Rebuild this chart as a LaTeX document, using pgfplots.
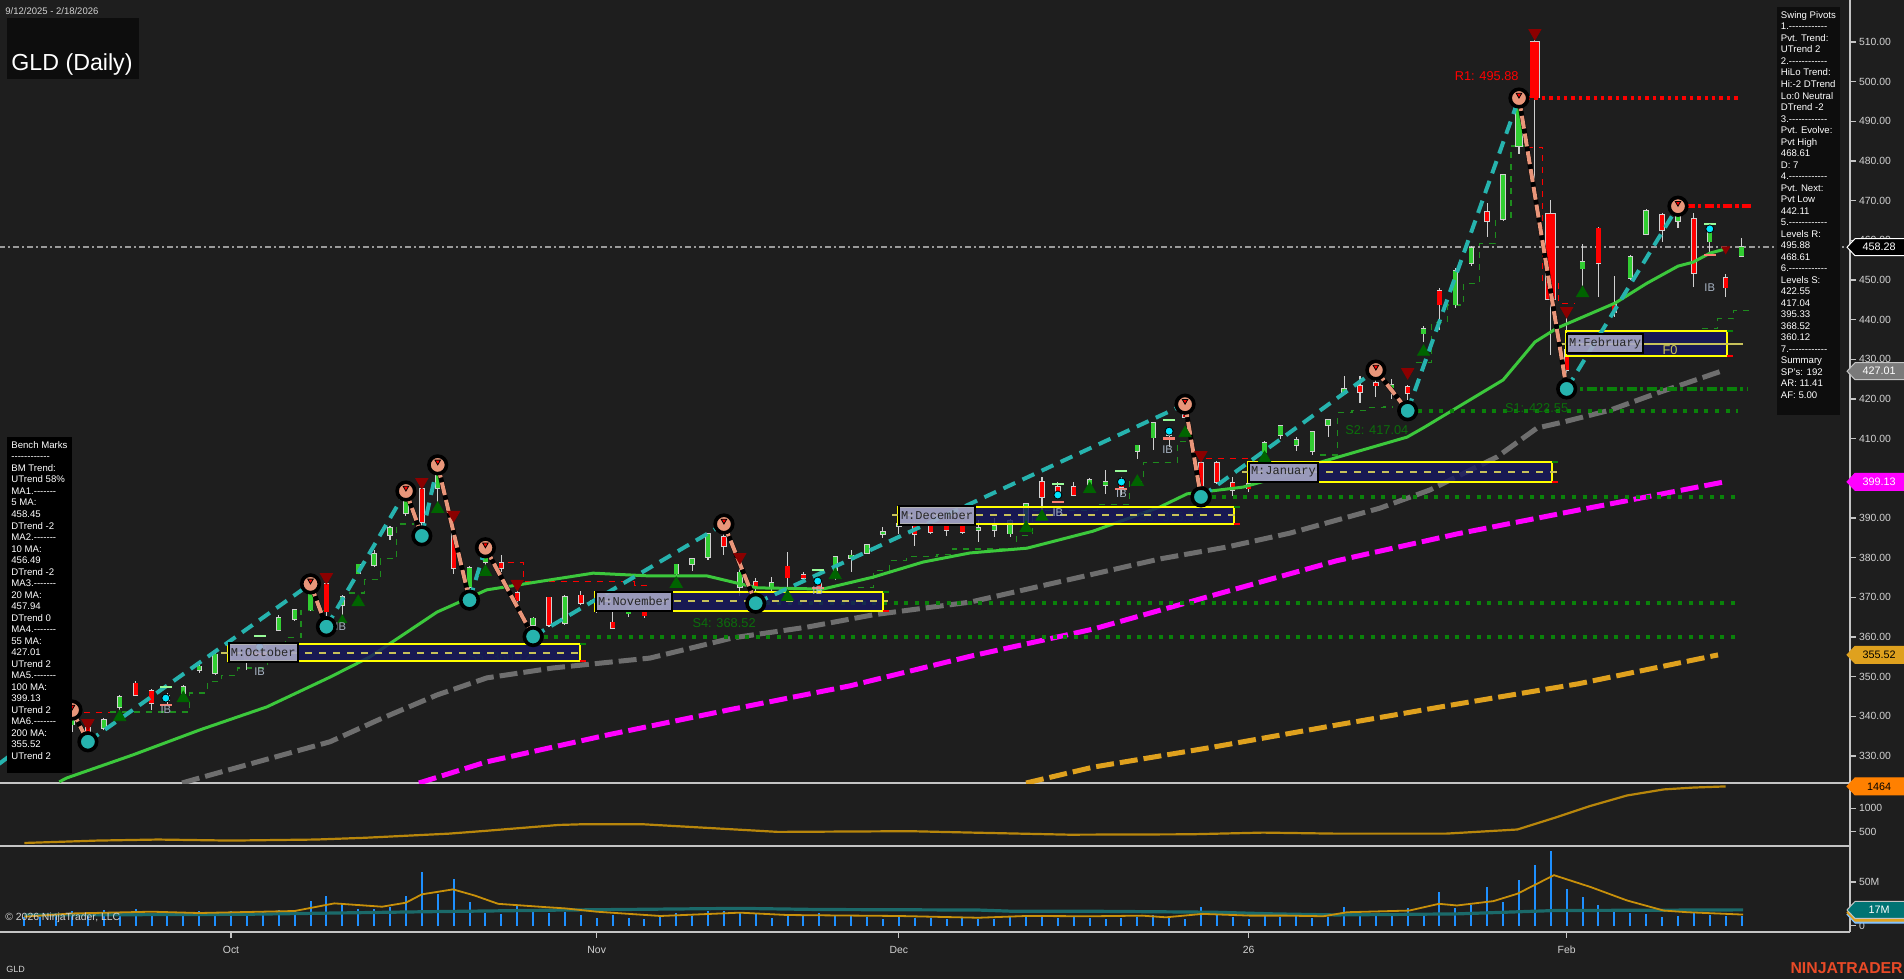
\documentclass[border=0pt]{standalone}
\usepackage{fontspec}
\setmainfont{Liberation Sans}
\newfontfamily\monofont{Liberation Mono}
\usepackage{pgfplots}
\usepackage{pgfplotstable}
\pgfplotsset{compat=1.18}

\definecolor{bgc}{HTML}{1E1E1E}
\definecolor{axc}{HTML}{C4C4C4}
\definecolor{txt}{HTML}{D2D2D2}
\definecolor{upc}{HTML}{32CD32}
\definecolor{dnc}{HTML}{FF0000}
\definecolor{wickc}{HTML}{D0D0D0}
\definecolor{maA}{HTML}{3CC83C}
\definecolor{maB}{HTML}{6E6E6E}
\definecolor{maC}{HTML}{FF00FF}
\definecolor{maD}{HTML}{DFA11E}
\definecolor{swup}{HTML}{26B3AE}
\definecolor{swdn}{HTML}{E9967A}
\definecolor{lvlg}{HTML}{0A820A}
\definecolor{lvltxt}{HTML}{0B6E0B}
\definecolor{navyb}{HTML}{17175F}
\definecolor{mlbl}{HTML}{A8A8C6}
\definecolor{boxyel}{HTML}{FFFF00}
\definecolor{midyel}{HTML}{C8C25A}
\definecolor{dtri}{HTML}{8B0000}
\definecolor{utri}{HTML}{006400}
\definecolor{ibc}{HTML}{A8B4C4}
\definecolor{volb}{HTML}{1E90FF}
\definecolor{volma}{HTML}{C8900A}
\definecolor{volavg}{HTML}{1B6A6A}
\definecolor{midc}{HTML}{B8860B}
\definecolor{ntred}{HTML}{E84A27}
\definecolor{dotc}{HTML}{00E5FF}
\definecolor{ibup}{HTML}{98FB98}
\definecolor{ibdn}{HTML}{FA8072}
\definecolor{tagg}{HTML}{7A7A7A}
\definecolor{titlebg}{HTML}{0D0D0D}
\definecolor{stepg}{HTML}{1E8C1E}
\definecolor{curr}{HTML}{9A9A9A}

\newcommand\tickfont{\fontsize{5.2pt}{6pt}\selectfont}
\newcommand\tagfont{\fontsize{5.4pt}{6pt}\selectfont}
\newcommand\boxfont{\fontsize{4.8pt}{5.76pt}\selectfont}
\newcommand\lvlfont{\fontsize{6.4pt}{7.5pt}\selectfont}
\newcommand\hy{-\kern0pt }
\newcommand\rul{\hy\hy\hy\hy\hy\hy\hy\hy\hy\hy\hy\hy}
\newcommand\rulb{\hy\hy\hy\hy\hy\hy\hy}

% price tag on the right-hand scale
\newcommand\pricetag[5]{%
  \filldraw[fill=#2, draw=#3, line width=0.5pt] (axis cs:114.82,#1) ++(-1.5pt,0pt) -- ++(4pt,4.25pt) -- ++(25.5pt,0pt) -- ++(0pt,-8.5pt) -- ++(-25.5pt,0pt) -- cycle;
  \node[text=#4, font=\tagfont, inner sep=0pt] at ([xshift=14.5pt]axis cs:114.82,#1) {#5};}
% monthly range box: left, right, low, high
\newcommand\monthbox[4]{%
  \fill[navyb, fill opacity=0.82] (axis cs:#1,#3) rectangle (axis cs:#2,#4);
  \draw[boxyel, line width=1pt] (axis cs:#1,#3) rectangle (axis cs:#2,#4);
  \draw[lvlg, line width=1pt] (axis cs:#2,#4) -- ++(3pt,0pt);
  \draw[dnc, line width=1pt] (axis cs:#2,#3) -- ++(3pt,0pt);}
\newcommand\monthlabel[3]{%
  \node[anchor=west, fill=mlbl, fill opacity=0.9, text opacity=1, draw=black, line width=1pt, text=black!85, font=\monofont\fontsize{6pt}{7pt}\selectfont, inner xsep=1pt, inner ysep=0pt, minimum height=9.5pt] at (axis cs:#1,#2) {#3};}
\newcommand\iblabel[2]{%
  \node[text=ibc, font=\fontsize{5.6pt}{6pt}\selectfont, inner sep=0pt] at (axis cs:#1,#2) {IB};}

% daily candles: bar index, open, high, low, close
\pgfplotstableread{
i o h l c
0 328 330 326 329
1 330 333 328 332
2 334 338 333 337
3 338 341.6 336 339
5 337.2 339.5 336.5 339.1
6 342.4 345.5 341.5 344.9
9 344.2 346 342.5 345
10 345.9 348 345.5 347.4
11 351.7 353 351 352.5
12 351 356 350.5 355.5
13 355.5 358 354 356.5
15 355 358 354 357.5
16 361.8 365.5 361.5 364.8
17 364.6 367 364 366.8
18 367 373.4 366.5 372.5
20 368.1 370.6 365 370.1
21 376.1 378.5 375.8 378.2
22 378.2 381.9 377.7 380.9
23 385.7 388 384.5 387.5
24 391.4 396.8 390.5 394.1
26 397.6 403.4 393 400.8
28 372.6 378 369.3 377.4
29 378.9 382.5 377.5 380.2
32 363.1 365 360.12 364.6
34 363.6 370.5 363 370.1
36 368 370.5 366 369
38 366 368.4 365 367.5
40 367.5 370 366.8 369
41 376.1 378.5 375.5 378.2
42 378.5 380 376.6 379.5
43 380.2 386.3 379.5 386
45 372.6 378 370.3 376.2
47 372.5 375.1 371.1 373.5
51 376.9 380.2 374.5 380.2
52 380 382 376.5 380.5
53 381.2 383.5 381 383.2
54 386 387.7 385 386.5
55 388 390 386 388.5
60 387 389.5 384 387.5
61 387 390 385.2 388
62 386.2 389.7 385.2 389.2
63 389 393.8 388.5 393.5
67 398.1 400 398 399.6
68 398.5 402 396 399
70 406.9 408.4 405 408.2
71 410.4 414 407.2 413.9
78 406.6 409.5 405.5 408.9
79 411 413.5 410 413.2
80 408.5 410.5 407 409.5
81 406.9 411.9 406 411.7
82 413.5 415 410.5 414.7
83 421.5 425.8 421 422.5
86 423 425 420 423.5
88 436.6 438.5 434.5 437.6
90 443.9 453 443 452.3
91 454.3 458.5 453.5 458.1
93 465.4 476.8 465 476.5
98 453 459.1 448.2 454.5
101 450.5 456.3 450 455.8
102 461.6 468 461.5 467.4
104 465 468.61 463.1 466
106 459.8 463.4 457 462.6
108 456.1 460.6 455.8 458.28
}\candup

\pgfplotstableread{
i o h l c
4 337 338 333.6 334.5
7 348.2 349 345.2 345.4
8 346.4 346.8 341.5 343.4
14 356 357 351.7 354.5
19 373.2 374 362.6 366.5
25 397.3 397.8 385.5 389
27 386.5 388.8 375.9 377.4
30 378.6 380.8 376.5 377.4
31 371.1 373 368.5 369.3
33 369.9 370.2 362.5 363.1
35 370.4 371.5 368 368.6
37 363.6 366.5 362 362.3
39 366.5 367.6 364.9 365.5
44 385.2 388.5 380.8 383
46 373.9 375 368.52 372.6
48 377.7 381.5 371.3 375.1
49 375.5 376.5 374 375
50 373.5 374.5 371 372
56 388 389.5 383 386
57 388.5 389 386 386.5
58 388 389 385.5 387
59 388.7 389.5 386 386.5
64 399 400.3 391.5 395.3
65 397.8 399 395.5 396.3
66 397.8 399 395.5 395.8
69 398.3 400.3 395.8 397.8
72 412 412.5 408 411
73 416 418.7 414.7 415.5
74 403.9 404.5 395.33 398.3
75 403.9 404.5 398.5 399.1
76 398.8 400.3 395.5 397.1
77 398.5 399.5 396.5 397.5
84 423.3 425.8 419 421.8
85 424 427.3 420.5 423.5
87 423 423.5 417.04 421.5
89 447.2 448 437.4 443.9
92 467.1 469.4 460.9 465
97 432.4 441.2 422.55 427.3
99 462.9 463.4 445.7 454.3
100 443.7 451 440.7 441.9
103 466.4 466.9 459.6 462.6
105 465.4 466.9 448.2 451.8
107 450.5 451.5 445.7 448.2
}\canddn

% the wide-range sessions of late January
\pgfplotstableread{
i o h l c
94 483.8 495.88 481.8 493.4
}\candupw
\pgfplotstableread{
i o h l c
95 510 510.5 468.9 496.1
96 466.6 470.2 431.1 445.2
}\canddnw

% volume, millions of shares
\pgfplotstableread{
i v
0 9.6
1 10.3
2 14.1
3 16.8
4 14.1
5 17.6
6 14.1
7 19.4
8 13.3
9 14.1
10 12.2
11 16.8
12 14.9
13 16.8
14 16.8
15 16
16 17.9
17 17.9
18 28.2
19 33.9
20 24.4
21 19.1
22 19.1
23 21.7
24 33.9
25 61
26 36
27 53
28 27
29 14
30 13
31 24
32 19
33 15
34 16
35 12.2
36 8.4
37 12.2
38 8.4
39 7.6
40 12.2
41 14.1
42 11.1
43 16.8
44 16.8
45 16
46 14.1
47 8.4
48 12.2
49 11.1
50 14.1
51 11.1
52 11.1
53 10.3
54 7.6
55 12.2
56 9.1
57 9.1
58 7.6
59 10.3
60 7.6
61 7.6
62 9.6
63 12.2
64 11
65 9
66 10
67 9
68 8
69 9
70 10
71 12
72 9
73 8
74 21
75 12
76 10
77 8
78 11
79 10
80 12
81 9
82 10
83 21
84 12
85 13
86 11
87 20
88 14
89 38
90 20
91 24
92 44
93 27
94 52
95 69
96 85
97 42
98 33
99 24
100 19
101 14
102 13
103 10
104 11
105 15
106 12
107 11
108 11
}\vol

\pgfplotsset{
  nomark/.style={only marks, mark=*, mark size=0pt, mark options={draw=none, fill=none}, forget plot},
  wick/.style={nomark, error bars/.cd, y dir=plus, y explicit, error mark=none, error bar style={draw=wickc, line width=0.55pt}},
  body/.style 2 args={nomark, error bars/.cd, y dir=both, y explicit, error mark=none, error bar style={draw=#1, line width=#2}}}

\begin{document}
\begin{tikzpicture}
\fill[bgc] (0,0) rectangle (952pt,-489.5pt);
\useasboundingbox (0,0) rectangle (952pt,-489.5pt);

%================ price panel ================
\begin{axis}[at={(0pt,0pt)}, anchor=north west, scale only axis,
  width=925pt, height=391.5pt,
  xmin=-1.528, xmax=114.82, ymin=323.2, ymax=520.6,
  axis x line*=bottom, axis y line*=right,
  axis line style={draw=axc, line width=0.6pt},
  xtick=\empty, ytick={330,340,...,390,410,420,...,510},
  tick align=outside, major tick length=3pt,
  tick style={draw=axc, line width=0.6pt},
  yticklabel={\pgfmathprintnumber[fixed,fixed zerofill,precision=2,assume math mode=true]{\tick}},
  yticklabel style={font=\tickfont, text=txt, xshift=-2pt},
  clip mode=individual, unbounded coords=jump]

% current price
\addplot[curr, line width=0.7pt, dash pattern=on 3pt off 1.5pt on 1pt off 1.5pt] coordinates {(-1.6,458.28) (114.9,458.28)};

% trailing step lines
\addplot[stepg, line width=0.55pt, dashed, const plot] coordinates {(5.4,341.1) (10.4,345.9) (11.5,348.7) (12.4,350.4) (13.4,352.2) (15.3,356.0) (16.4,359.8) (17.4,366.8) (19.2,366.8)};
\addplot[stepg, line width=0.55pt, dashed, const plot] coordinates {(20.4,371.1) (21.4,374.4) (22.4,379.7) (23.4,388.5) (24.5,388.5)};
\addplot[stepg, line width=0.55pt, dashed, const plot] coordinates {(52.4,372.6) (53.4,376.7) (54.4,379.4) (55.5,380.2) (57.4,380.9) (58.4,382.2) (62.4,385.7) (63.4,391.8) (67.5,393.3) (69.5,399.1) (70.4,404.1) (72.5,409.2) (73.2,409.2)};
\addplot[stepg, line width=0.55pt, dashed, const plot] coordinates {(81.5,405.9) (82.6,416.5) (83.5,417.0) (84.5,417.8) (85.5,418.0) (86.1,418.0)};
\addplot[stepg, line width=0.55pt, dashed, const plot] coordinates {(87.5,429.3) (88.5,439.2) (89.5,443.7) (90.5,449.2) (91.5,459.1) (92.5,465.6) (93.5,483.8) (94.6,483.8)};
\addplot[stepg, line width=0.55pt, dashed, const plot] coordinates {(105.5,437.7) (106.5,440.2) (107.5,442.4) (108.6,442.4)};
\addplot[dnc, line width=0.55pt, dashed, const plot] coordinates {(94.5,483.5) (95.5,449.2) (96.5,444.0) (97.5,444.0)};
\addplot[dnc, line width=0.55pt, dashed, const plot] coordinates {(30.4,378.7) (31.4,373.9) (38.4,373.1) (39.4,373.1)};
\addplot[dnc, line width=0.55pt, dashed] coordinates {(74.3,405.1) (77.1,405.1)};
\addplot[dnc, line width=0.55pt, dashed] coordinates {(3,340.9) (5.4,340.9)};

% candles: wicks, light outline, body
\addplot[wick] table[x=i, y=l, y error plus expr=\thisrow{h}-\thisrow{l}] {\candup};
\addplot[wick] table[x=i, y=l, y error plus expr=\thisrow{h}-\thisrow{l}] {\canddn};
\addplot[wick] table[x=i, y=l, y error plus expr=\thisrow{h}-\thisrow{l}] {\candupw};
\addplot[wick] table[x=i, y=l, y error plus expr=\thisrow{h}-\thisrow{l}] {\canddnw};
\addplot[body={wickc}{2.7pt}] table[x=i, y expr=(\thisrow{o}+\thisrow{c})/2, y error expr={abs(\thisrow{c}-\thisrow{o})/2+0.3}] {\candup};
\addplot[body={upc}{2.1pt}] table[x=i, y expr=(\thisrow{o}+\thisrow{c})/2, y error expr={abs(\thisrow{c}-\thisrow{o})/2+0.1}] {\candup};
\addplot[body={wickc}{2.7pt}] table[x=i, y expr=(\thisrow{o}+\thisrow{c})/2, y error expr={abs(\thisrow{c}-\thisrow{o})/2+0.3}] {\canddn};
\addplot[body={dnc}{2.1pt}] table[x=i, y expr=(\thisrow{o}+\thisrow{c})/2, y error expr={abs(\thisrow{c}-\thisrow{o})/2+0.1}] {\canddn};
\addplot[body={wickc}{4.1pt}] table[x=i, y expr=(\thisrow{o}+\thisrow{c})/2, y error expr={abs(\thisrow{c}-\thisrow{o})/2+0.3}] {\candupw};
\addplot[body={upc}{3.4pt}] table[x=i, y expr=(\thisrow{o}+\thisrow{c})/2, y error expr={abs(\thisrow{c}-\thisrow{o})/2+0.1}] {\candupw};
\addplot[body={wickc}{5.3pt}] table[x=i, y expr=(\thisrow{o}+\thisrow{c})/2, y error expr={abs(\thisrow{c}-\thisrow{o})/2+0.3}] {\canddnw};
\addplot[body={dnc}{4.6pt}] table[x=i, y expr=(\thisrow{o}+\thisrow{c})/2, y error expr={abs(\thisrow{c}-\thisrow{o})/2+0.1}] {\canddnw};

% moving averages
\addplot[maD, line width=2.5pt, dash pattern=on 9pt off 3pt] coordinates {(63.0,323.2) (67.22,327.2) (74.83,332.3) (82.5,337.8) (90.11,343.1) (97.72,348.2) (106.52,355.5)};
\addplot[maC, line width=2.5pt, dash pattern=on 9pt off 3pt] coordinates {(24.82,323.2) (29.04,328.5) (36.65,335.3) (44.26,341.6) (51.93,347.7) (59.54,355.2) (67.22,362.0) (74.83,370.6) (82.5,379.2) (90.11,386.0) (97.72,392.0) (106.9,399.1)};
\addplot[maB, line width=2.5pt, dash pattern=on 9pt off 3pt] coordinates {(9.92,323.2) (11.05,324.5) (19.23,333.6) (22.37,339.3) (25.96,345.4) (29.09,349.7) (33.25,352.2) (39.35,354.7) (44.57,359.8) (49.23,362.5) (53.38,365.6) (59.48,368.8) (71.43,379.7) (75.64,382.7) (79.6,386.2) (85.26,392.5) (88.41,397.1) (92.62,405.4) (95.14,412.7) (96.78,414.2) (99.73,417.2) (102.69,421.5) (106.78,427.1)};
\addplot[maA, line width=1.5pt] coordinates {(2.2,323.5) (2.69,324.5) (6.84,330.3) (11.05,336.6) (15.26,342.4) (19.23,349.9) (21.74,355.0) (25.96,366.3) (29.09,371.9) (32.25,373.9) (35.77,376.1) (39.35,375.4) (42.94,375.4) (46.08,372.4) (50.23,372.1) (53.38,375.1) (56.52,378.9) (59.48,381.2) (63.06,382.4) (67.22,386.7) (71.43,392.8) (73.13,396.1) (76.65,397.8) (79.6,401.1) (81.36,403.9) (86.96,410.4) (87.97,412.7) (93.0,424.8) (95.01,434.4) (96.4,437.9) (100.05,444.2) (102.05,449.2) (104.0,453.5) (104.95,454.5) (106.02,456.8) (107.09,457.94)};

% support and resistance levels
\addplot[dnc, line width=1.7pt, dash pattern=on 1.7pt off 2pt] coordinates {(94.5,495.88) (107.8,495.88)};
\addplot[dnc, line width=1.8pt, dash pattern=on 4.5pt off 1.6pt on 1.6pt off 1.6pt] coordinates {(104.5,468.61) (108.6,468.61)};
\addplot[lvlg, line width=2pt, dash pattern=on 5pt off 1.6pt on 1.8pt off 1.6pt] coordinates {(97,422.55) (108.4,422.55)};
\addplot[lvlg, line width=2pt, dash pattern=on 2pt off 3.3pt] coordinates {(87,417.04) (107.8,417.04)};
\addplot[lvlg, line width=2pt, dash pattern=on 2pt off 3.3pt] coordinates {(74,395.33) (107.8,395.33)};
\addplot[lvlg, line width=2pt, dash pattern=on 2pt off 3.3pt] coordinates {(46,368.52) (107.8,368.52)};
\addplot[lvlg, line width=2pt, dash pattern=on 2pt off 3.3pt] coordinates {(32,360.12) (107.8,360.12)};

\node[anchor=east, text=dnc, font=\lvlfont, inner sep=0pt] at (axis cs:94.0,501.4) {R1: 495.88};
\node[anchor=west, text=lvltxt, font=\lvlfont, inner sep=0pt] at (axis cs:93.1,417.7) {S1: 422.55};
\node[anchor=west, text=lvltxt, font=\lvlfont, inner sep=0pt] at (axis cs:83.05,412.2) {S2: 417.04};
\node[anchor=west, text=lvltxt, font=\lvlfont, inner sep=0pt] at (axis cs:70.04,390.3) {S3: 395.33};
\node[anchor=west, text=lvltxt, font=\lvlfont, inner sep=0pt] at (axis cs:42.0,363.5) {S4: 368.52};
\node[anchor=west, text=lvltxt, font=\lvlfont, inner sep=0pt] at (axis cs:27.9,355.0) {S5: 360.12};

% monthly boxes
\monthbox{12.8}{34.95}{354.0}{358.2}
\monthbox{35.9}{54.0}{366.6}{371.4}
\monthbox{54.95}{76.1}{388.5}{392.8}
\monthbox{76.96}{96.07}{399.1}{404.1}
\monthbox{96.96}{107.1}{430.8}{437.1}
\draw[midyel, line width=1pt, dash pattern=on 3.5pt off 3.5pt] (axis cs:12.4,356.1) -- (axis cs:35.2,356.1);
\draw[midyel, line width=1pt, dash pattern=on 3.5pt off 3.5pt] (axis cs:35.6,369.0) -- (axis cs:54.3,369.0);
\draw[midyel, line width=1pt, dash pattern=on 3.5pt off 3.5pt] (axis cs:54.6,390.65) -- (axis cs:76.4,390.65);
\draw[midyel, line width=1pt, dash pattern=on 3.5pt off 3.5pt] (axis cs:76.6,401.6) -- (axis cs:96.4,401.6);
\draw[midyel, line width=1pt] (axis cs:96.6,433.95) -- (axis cs:108.1,433.95);
\node[text=midyel, font=\lvlfont, inner sep=0pt] at (axis cs:103.5,432.4) {F0};

% swing legs
\addplot[swup, line width=2pt, dash pattern=on 6.5pt off 4pt] coordinates {(-1.6,328) (3,341.6) (3.5,nan) (4,333.6) (18,373.4) (18.5,nan) (19,362.6) (24,396.8) (24.5,nan) (25,385.5) (26,403.4) (26.5,nan) (28,369.3) (29,382.5) (30,nan) (32,360.12) (44,388.5) (45,nan) (46,368.52) (73,418.7) (73.5,nan) (74,395.33) (85,427.3) (86,nan) (87,417.04) (94,495.88) (95,nan) (97,422.55) (104,468.61)};
\addplot[black, line width=2.4pt] coordinates {(3,341.6) (4,333.6) (10,nan) (18,373.4) (19,362.6) (20,nan) (24,396.8) (25,385.5) (25.5,nan) (26,403.4) (28,369.3) (28.5,nan) (29,382.5) (32,360.12) (33,nan) (44,388.5) (46,368.52) (50,nan) (73,418.7) (74,395.33) (80,nan) (85,427.3) (87,417.04) (90,nan) (94,495.88) (97,422.55)};
\addplot[swdn, line width=2pt, dash pattern=on 6.5pt off 2.5pt] coordinates {(3,341.6) (4,333.6) (10,nan) (18,373.4) (19,362.6) (20,nan) (24,396.8) (25,385.5) (25.5,nan) (26,403.4) (28,369.3) (28.5,nan) (29,382.5) (32,360.12) (33,nan) (44,388.5) (46,368.52) (50,nan) (73,418.7) (74,395.33) (80,nan) (85,427.3) (87,417.04) (90,nan) (94,495.88) (97,422.55)};

% signal triangles
\addplot[only marks, mark=triangle*, mark size=3.5pt, mark options={rotate=180, fill=dtri, draw=dtri}] coordinates {(4,338.3) (19,375.1) (25,399.1) (27,390.8) (31,373.4) (45,380.2) (74,405.9) (87,426.8) (97,442.2) (95,512.3)};
\addplot[only marks, mark=triangle*, mark size=2.3pt, mark options={rotate=180, fill=dtri, draw=dtri}] coordinates {(107,457.8)};
\addplot[only marks, mark=triangle*, mark size=3.5pt, mark options={fill=utri, draw=utri}] coordinates {(6,339.8) (10,344.6) (21,368.8) (26,392.3) (29,376.4) (41,373.4) (48,370.1) (51,375.6) (63,387.5) (64,390.3) (67,397.3) (70,399.1) (73,411.4) (78,405.1) (88,431.9) (98,446.7)};
\addplot[only marks, mark=triangle*, mark size=2.5pt, mark options={fill=utri, draw=utri}] coordinates {(20,364.3) (28,368.6)};

% inside-bar markers
\addplot[only marks, mark=-, mark size=3pt, mark options={draw=ibup, line width=1.2pt}] coordinates {(8.9,347.4) (14.8,360.3) (49.9,376.9) (65,398.6) (69,401.9) (72,414.7) (106,464.1)};
\addplot[only marks, mark=-, mark size=3pt, mark options={draw=ibdn, line width=1.2pt}] coordinates {(8.9,342.8) (14.8,355.7) (49.9,372.3) (65,394.0) (69,397.3) (72,410.1) (106,456.3)};
\addplot[only marks, mark=*, mark size=2pt, mark options={fill=dotc, draw=none}] coordinates {(8.9,344.6) (14.8,357.5) (49.9,374.1) (65,395.8) (69,399.1) (72,411.9) (106,462.9)};
\iblabel{8.9}{341.6}
\iblabel{14.8}{351.2}
\iblabel{19.9}{362.5}
\iblabel{49.9}{371.6}
\iblabel{65}{391.3}
\iblabel{69}{396.1}
\iblabel{71.9}{407.2}
\iblabel{106}{448.2}

% pivot points
\addplot[only marks, mark=*, mark size=4.4pt, mark options={fill=swdn, draw=black, line width=1.8pt}] coordinates {(3,341.6) (18,373.4) (24,396.8) (26,403.4) (29,382.5) (44,388.5) (73,418.7) (85,427.3) (94,495.88) (104,468.61)};
\addplot[only marks, mark=triangle*, mark size=1.6pt, mark options={rotate=180, fill=dnc, draw=none}] coordinates {(3,342.4) (18,374.2) (24,397.6) (26,404.2) (29,383.3) (44,389.3) (73,419.5) (85,428.1) (94,496.68) (104,469.41)};
\addplot[only marks, mark=*, mark size=4.4pt, mark options={fill=swup, draw=black, line width=1.8pt}] coordinates {(4,333.6) (19,362.6) (25,385.5) (28,369.3) (32,360.12) (46,368.52) (74,395.33) (87,417.04) (97,422.55)};

% month labels
\monthlabel{12.8}{356.1}{M:October}
\monthlabel{35.9}{369.0}{M:November}
\monthlabel{54.95}{390.65}{M:December}
\monthlabel{76.96}{401.6}{M:January}
\monthlabel{96.96}{433.95}{M:February}

\pricetag{458.28}{black}{white}{white}{458.28}
\pricetag{427.01}{tagg}{axc}{white}{427.01}
\pricetag{399.13}{maC}{maC}{white}{399.13}
\pricetag{355.52}{maD}{maD}{black}{355.52}
\end{axis}

%================ middle panel ================
\begin{axis}[at={(0pt,-391.5pt)}, anchor=north west, scale only axis,
  width=925pt, height=31.5pt,
  xmin=-1.528, xmax=114.82, ymin=201, ymax=1536,
  axis x line*=bottom, axis y line*=right,
  axis line style={draw=axc, line width=0.6pt},
  xtick=\empty, ytick={500,1000}, yticklabels={500,1000},
  tick align=outside, major tick length=3pt,
  tick style={draw=axc, line width=0.6pt},
  yticklabel style={font=\tickfont, text=txt, xshift=-2pt},
  clip mode=individual]
\addplot[midc, line width=1.1pt] coordinates {(0,265) (4.58,316) (8.4,338) (12.98,316) (18.33,338) (21.4,375) (26.7,463) (29.0,522) (33.6,647) (35.1,662) (38.9,662) (42.8,588) (47.4,500) (55.7,515) (59.6,485) (65.7,441) (73.3,449) (77.9,485) (82.5,463) (89.4,463) (93.9,551) (96.2,794) (98.5,1051) (100.8,1272) (103.1,1400) (105,1440) (107,1464)};
\pricetag{1464}{orange}{orange}{black}{1464}
\end{axis}

%================ volume panel ================
\begin{axis}[at={(0pt,-423pt)}, anchor=north west, scale only axis,
  width=925pt, height=43pt,
  xmin=-1.528, xmax=114.82, ymin=-7.2, ymax=91,
  axis x line*=bottom, axis y line*=right,
  axis line style={draw=axc, line width=0.6pt},
  xtick={13,36,55,77,97}, xticklabels={Oct,Nov,Dec,26,Feb},
  xticklabel style={font=\tickfont, text=txt, anchor=center, yshift=-6pt},
  ytick={0,50}, yticklabels={0,50M},
  tick align=outside, major tick length=3pt,
  tick style={draw=axc, line width=0.6pt},
  yticklabel style={font=\tickfont, text=txt, xshift=-2pt},
  clip mode=individual]
\addplot[ycomb, volb, line width=1pt] table[x=i, y=v] {\vol};
\addplot[volavg, line width=1.6pt] coordinates {(0,12.2) (13.7,13) (25.4,16) (34,17.9) (45,19.8) (50,18.5) (60,17.9) (62,16.6) (67.2,16.5) (74.8,15.4) (78.6,13.5) (82.5,12.3) (90.1,13.5) (96.2,17.3) (108.1,18.1)};
\addplot[volma, line width=0.9pt] coordinates {(0,10.3) (3,14) (8,16) (11,14.5) (17,16.8) (19.5,25.5) (22.5,21.7) (24,26.3) (25,35.8) (26.96,41.5) (28.3,34.6) (29.8,25) (32.8,21.2) (34,19.8) (36,16) (40,11.1) (45,14.9) (48,12.2) (55,11.1) (60,9.1) (63,11.1) (67.2,10.8) (70.3,11.5) (71.8,9.6) (74.1,13.5) (77.1,11.5) (79.4,11.5) (81.7,10.8) (83.2,15.4) (87.1,17.3) (88.97,25) (90.1,23.1) (92.4,28.1) (93.9,36.5) (96.2,57.7) (98.5,44.2) (100.8,28.8) (103.1,17.3) (104.6,15.4) (108.1,12.7)};
\pricetag{12.8}{volb!55!white}{volb!55!white}{black}{}
\pricetag{15}{maD}{maD}{black}{}
\pricetag{18}{teal!90!black}{axc}{white}{17M}
\end{axis}

%================ captions and info boxes ================
\begin{scope}[x=0.5pt, y=-0.5pt]
\node[anchor=west, font=\fontsize{4.75pt}{5.5pt}\selectfont, text=txt, inner sep=0pt] at (5,11) {9/12/2025 - 2/18/2026};
\fill[titlebg] (7,18) rectangle (139,79);
\node[anchor=base west, font=\fontsize{11.6pt}{13pt}\selectfont, text=white, inner sep=0pt] at (11,71) {GLD (Daily)};

\fill[black!95] (1777,7) rectangle (1840,415);
\node[anchor=north west, align=left, font=\boxfont, text=white, inner sep=0pt] at (1780.5,11) {Swing Pivots\\1.\rul\\Pvt. Trend:\\UTrend 2\\2.\rul\\HiLo Trend:\\Hi:-2 DTrend\\Lo:0 Neutral\\DTrend -2\\3.\rul\\Pvt. Evolve:\\Pvt High\\468.61\\D: 7\\4.\rul\\Pvt. Next:\\Pvt Low\\442.11\\5.\rul\\Levels R:\\495.88\\468.61\\6.\rul\\Levels S:\\422.55\\417.04\\395.33\\368.52\\360.12\\7.\rul\\Summary\\SP's: 192\\AR: 11.41\\AF: 5.00};

\fill[black] (7,437) rectangle (72,773);
\node[anchor=north west, align=left, font=\boxfont, text=white, inner sep=0pt] at (11,441) {Bench Marks\\\rul\\BM Trend:\\UTrend 58\%\\MA1.\rulb\\5 MA:\\458.45\\DTrend -2\\MA2.\rulb\\10 MA:\\456.49\\DTrend -2\\MA3.\rulb\\20 MA:\\457.94\\DTrend 0\\MA4.\rulb\\55 MA:\\427.01\\UTrend 2\\MA5.\rulb\\100 MA:\\399.13\\UTrend 2\\MA6.\rulb\\200 MA:\\355.52\\UTrend 2};

\node[anchor=west, font=\fontsize{5.2pt}{6pt}\selectfont, text=txt, inner sep=0pt] at (5,918) {\textcopyright{} 2026 NinjaTrader, LLC};
\node[anchor=west, font=\fontsize{4.5pt}{5pt}\selectfont, text=txt, inner sep=0pt] at (6,969) {GLD};
\node[anchor=east, font=\bfseries\fontsize{7.9pt}{9pt}\selectfont, text=ntred, inner sep=0pt] at (1903,968) {NINJATRADER};
\end{scope}
\end{tikzpicture}
\end{document}
